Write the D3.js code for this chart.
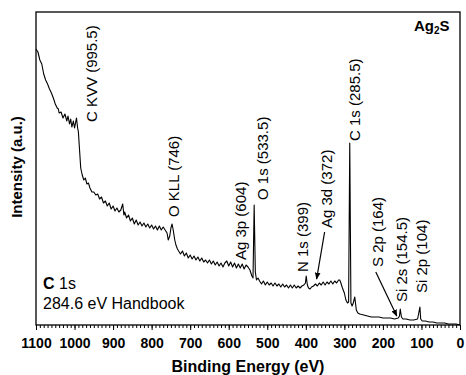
<!DOCTYPE html>
<html>
<head>
<meta charset="utf-8">
<script src="https://cdn.jsdelivr.net/npm/d3@7"></script>
<style>
  body { margin: 0; background: #fff; }
  svg text { font-family: Arial, "Liberation Sans", sans-serif; }
</style>
</head>
<body>
<div id="chart"></div>
<script>
// survey spectrum (binding energy in eV, intensity in a.u.)
const bindingEnergy = [
  1100,1095,1090,1085,1080,1075,1070,1065,1060,1055,1050,1045,1042,1040,1035,1030,1025,1020,1017,1013,
  1010,1007,1003,1000,997,995,992,990,987,984,980,976,972,968,964,960,955,950,945,940,
  935,930,925,920,915,910,905,900,895,890,885,880,875,872,870,865,860,855,850,845,
  840,835,830,825,820,815,810,805,800,795,790,785,780,775,770,765,760,757,753,750,
  747,744,740,737,733,730,725,720,715,710,705,700,695,690,685,680,675,670,665,660,
  655,650,645,640,635,630,625,620,615,610,605,600,595,590,585,580,575,570,565,560,
  555,550,545,540,537,534,531,528,524,520,515,510,505,500,495,490,485,480,475,470,
  465,460,455,450,445,440,435,430,425,420,415,410,405,401,399,396,393,389,385,380,
  375,370,365,360,355,350,345,340,335,330,325,320,315,312,309,305,300,296,292,289,
  286,283,280,277,273,269,265,260,250,240,230,220,210,200,190,180,170,160,157,155,
  152,148,140,130,120,110,104,102,98,90,80,70,60,50,40,30,20,10,0
];
const intensity = [
  276,273,265,261,251,245,241,236,232,227,221,217,216,212,213,207,211,204,209,201,
  206,198,204,197,203,207,197,193,175,157,150,145,147,141,142,137,133,133,130,131,
  126,128,122,124,119,122,116,119,114,117,113,115,121,110,113,107,110,104,107,101,
  105,100,103,99,102,98,101,97,100,96,99,95,99,95,98,95,92,85,89,97,
  101,95,85,80,76,74,71,74,69,72,67,70,66,69,65,68,64,67,63,65,
  62,65,61,64,60,63,59,62,58,62,64,59,63,58,62,57,61,57,61,56,
  60,58,55,49,47,120,53,45,47,44,41,44,40,43,40,42,39,42,39,41,
  38,41,38,40,37,40,37,40,37,39,37,39,40,42,49,40,37,36,38,39,
  41,39,42,40,43,40,43,41,44,41,44,42,45,45,42,37,32,25,22,23,
  182,22,19,22,28,15,12,11,10,9,8,8,8,7,7,7,6,7,9,16,
  8,6,6,5,5,6,18,6,4,4,3,3,2,2,2,1,1,1,0
];

// axis ticks
const majorTicks = [1100, 1000, 900, 800, 700, 600, 500, 400, 300, 200, 100, 0];
const minorStep = 10;

// peak assignments
const peakNames = ["C KVV (995.5)", "O KLL (746)", "Ag 3p (604)", "O 1s (533.5)", "N 1s (399)",
                   "Ag 3d (372)", "C 1s (285.5)", "S 2p (164)", "Si 2s (154.5)", "Si 2p (104)"];
const peakEnergies = [995.5, 746, 604, 533.5, 399, 372, 285.5, 164, 154.5, 104];

// label placement: x shift from the peak, bottom of the rotated text, arrow or not
const labelLayout = [
  {dx: 15, bottom: 122}, {dx: 1, bottom: 217}, {dx: 13, bottom: 260}, {dx: 8, bottom: 200},
  {dx: -4, bottom: 272}, {dx: 10, bottom: 228, arrow: {y0: 232, gap: 7}}, {dx: 5, bottom: 141},
  {dx: -19, bottom: 267, arrow: {y0: 272, gap: 2}}, {dx: 1, bottom: 302}, {dx: 2, bottom: 293}
];

const W = 466, H = 375;
const margin = {left: 36, right: 6, top: 12, bottom: 50};

const svg = d3.select("#chart").append("svg")
  .attr("width", W).attr("height", H);

svg.append("defs").append("marker")
  .attr("id", "arr")
  .attr("viewBox", "0 0 10 10")
  .attr("refX", 9).attr("refY", 5)
  .attr("markerWidth", 7).attr("markerHeight", 7)
  .attr("markerUnits", "userSpaceOnUse")
  .attr("orient", "auto")
  .append("path").attr("d", "M0,1 L10,5 L0,9 Z").attr("fill", "#000");

const x = d3.scaleLinear().domain([1100, 0]).range([margin.left, W - margin.right]);
const y = d3.scaleLinear().domain([0, 313]).range([H - margin.bottom, margin.top]);

// minor ticks
svg.append("g")
  .attr("transform", `translate(0,${H - margin.bottom})`)
  .call(d3.axisBottom(x).tickValues(d3.range(0, 1101, minorStep)).tickSize(3).tickFormat(""))
  .call(g => g.select(".domain").remove());

// major ticks + labels
svg.append("g")
  .attr("transform", `translate(0,${H - margin.bottom})`)
  .call(d3.axisBottom(x).tickValues(majorTicks).tickSize(5).tickPadding(8).tickFormat(d3.format("d")))
  .call(g => g.select(".domain").remove())
  .call(g => g.selectAll("text")
    .attr("font-size", 14).attr("font-weight", "bold").attr("fill", "#000")
    .style("font-family", "Arial, 'Liberation Sans', sans-serif"));

// spectrum
const pts = bindingEnergy.map((e, i) => [e, intensity[i]]);
svg.append("path")
  .datum(pts)
  .attr("fill", "none")
  .attr("stroke", "#000")
  .attr("stroke-width", 1.1)
  .attr("stroke-linejoin", "round")
  .attr("d", d3.line().x(d => x(d[0])).y(d => y(d[1])));

// frame
svg.append("rect")
  .attr("x", margin.left).attr("y", margin.top)
  .attr("width", W - margin.right - margin.left)
  .attr("height", H - margin.bottom - margin.top)
  .attr("fill", "none").attr("stroke", "#000").attr("stroke-width", 1.3);

// nearest read-off intensity for an arrow target
const nearest = e => {
  let best = 0;
  bindingEnergy.forEach((v, i) => { if (Math.abs(v - e) < Math.abs(bindingEnergy[best] - e)) best = i; });
  return intensity[best];
};

// peak labels
peakNames.forEach((name, i) => {
  const L = labelLayout[i];
  const px = x(peakEnergies[i]) + L.dx;
  svg.append("text")
    .attr("transform", `translate(${px},${L.bottom}) rotate(-90)`)
    .attr("dy", "0.36em")
    .attr("font-size", 15)
    .attr("fill", "#000")
    .text(name);
  if (L.arrow) {
    const tx = x(peakEnergies[i]);
    const ty = y(nearest(peakEnergies[i])) - L.arrow.gap;
    svg.append("line")
      .attr("x1", px - 2).attr("y1", L.arrow.y0)
      .attr("x2", tx).attr("y2", ty)
      .attr("stroke", "#000").attr("stroke-width", 1.2)
      .attr("marker-end", "url(#arr)");
  }
});

// sample label
const tag = svg.append("text")
  .attr("x", 414).attr("y", 31)
  .attr("font-size", 15).attr("font-weight", "bold");
tag.append("tspan").text("Ag");
tag.append("tspan").attr("font-size", 10).attr("dy", 3).text("2");
tag.append("tspan").attr("dy", -3).text("S");

// calibration note
const note = svg.append("text").attr("x", 43).attr("y", 289).attr("font-size", 16);
note.append("tspan").attr("font-weight", "bold").text("C");
note.append("tspan").text(" 1s");
svg.append("text").attr("x", 43).attr("y", 309).attr("font-size", 16).text("284.6 eV Handbook");

// axis titles
svg.append("text")
  .attr("x", (margin.left + W - margin.right) / 2).attr("y", 372)
  .attr("text-anchor", "middle")
  .attr("font-size", 16).attr("font-weight", "bold")
  .text("Binding Energy (eV)");

svg.append("text")
  .attr("transform", "translate(17,167) rotate(-90)")
  .attr("text-anchor", "middle")
  .attr("dy", "0.36em")
  .attr("font-size", 15).attr("font-weight", "bold")
  .text("Intensity (a.u.)");
</script>
</body>
</html>
